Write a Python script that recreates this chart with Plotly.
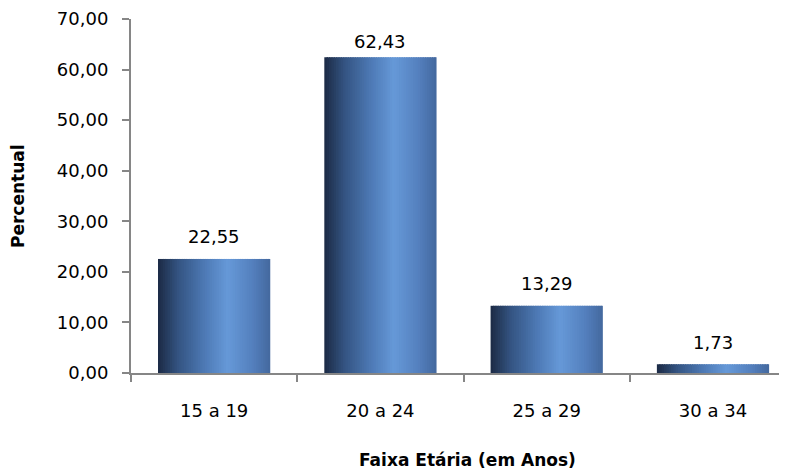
import plotly.graph_objects as go

categories = ["15 a 19", "20 a 24", "25 a 29", "30 a 34"]
values = [22.55, 62.43, 13.29, 1.73]
y_ticks = [0, 10, 20, 30, 40, 50, 60, 70]
y_title = "Percentual"
x_title = "Faixa Etária (em Anos)"

FONT = "DejaVu Sans"
AXIS_COL = "#868686"
BAR_W = 0.675
N = 48

# page body has an 8px margin: figure is sized to fit inside the 787x470 window
W, H = 779, 462
ML, MT, MB, MR = 123, 11, 97, 0
PLOT_H = H - MT - MB
Y_MAX = 70

stops = [
    (0.00, (28, 42, 68)),
    (0.18, (52, 84, 130)),
    (0.42, (78, 122, 182)),
    (0.62, (102, 153, 216)),
    (0.84, (84, 128, 190)),
    (1.00, (68, 104, 158)),
]


def color_at(t):
    for (t0, c0), (t1, c1) in zip(stops[:-1], stops[1:]):
        if t0 <= t <= t1:
            f = (t - t0) / (t1 - t0)
            c = [round(a + (b - a) * f) for a, b in zip(c0, c1)]
            return f"rgb({c[0]},{c[1]},{c[2]})"
    c = stops[-1][1]
    return f"rgb({c[0]},{c[1]},{c[2]})"


fig = go.Figure()
step = BAR_W / N
for i in range(N):
    t = (i + 0.5) / N
    w = step * 1.6 if i < N - 1 else step
    fig.add_trace(go.Bar(
        x=categories, y=values,
        width=w, offset=-BAR_W / 2 + i * step,
        marker=dict(color=color_at(t), line=dict(width=0)),
        hoverinfo="skip", showlegend=False,
    ))

annotations = []
ppu = PLOT_H / Y_MAX
for c, v in zip(categories, values):
    top_px = v * ppu
    center = min(top_px + 22, PLOT_H - 23)
    annotations.append(dict(
        x=c, y=v, xref="x", yref="y",
        text=f"{v:.2f}".replace(".", ","),
        showarrow=False, yanchor="middle", xanchor="center",
        yshift=center - top_px,
        font=dict(family=FONT, size=18, color="#000000"),
    ))

annotations.append(dict(
    text=f"<b>{y_title}</b>", x=0, y=0.5, xref="paper", yref="paper",
    xshift=10 - ML, showarrow=False, textangle=-90,
    font=dict(family=FONT, size=17), xanchor="center", yanchor="middle"))
annotations.append(dict(
    text=f"<b>{x_title}</b>", x=0.5,
    y=0, xref="paper", yref="paper", showarrow=False,
    font=dict(family=FONT, size=17), xanchor="center", yanchor="middle",
    xshift=8, yshift=-87))

fig.update_layout(
    width=W, height=H,
    margin=dict(l=ML, r=MR, t=MT, b=MB),
    paper_bgcolor="white", plot_bgcolor="white",
    barmode="overlay",
    separators=",.",
    font=dict(family=FONT, size=18, color="#000000"),
    xaxis=dict(
        type="category",
        range=[-0.5, 3.445],
        showline=True, linecolor=AXIS_COL, linewidth=2,
        ticks="outside", tickson="boundaries", ticklen=7, tickcolor=AXIS_COL, tickwidth=2,
        ticklabelstandoff=20,
        showgrid=False, zeroline=False,
        tickfont=dict(family=FONT, size=18),
    ),
    yaxis=dict(
        range=[0, Y_MAX],
        tickvals=y_ticks, tickformat=".2f",
        showline=True, linecolor=AXIS_COL, linewidth=2,
        ticks="outside", ticklen=7, tickcolor=AXIS_COL, tickwidth=2,
        ticklabelstandoff=10,
        showgrid=False, zeroline=False,
        tickfont=dict(family=FONT, size=18),
    ),
    annotations=annotations,
)

fig.write_html("out.html")
